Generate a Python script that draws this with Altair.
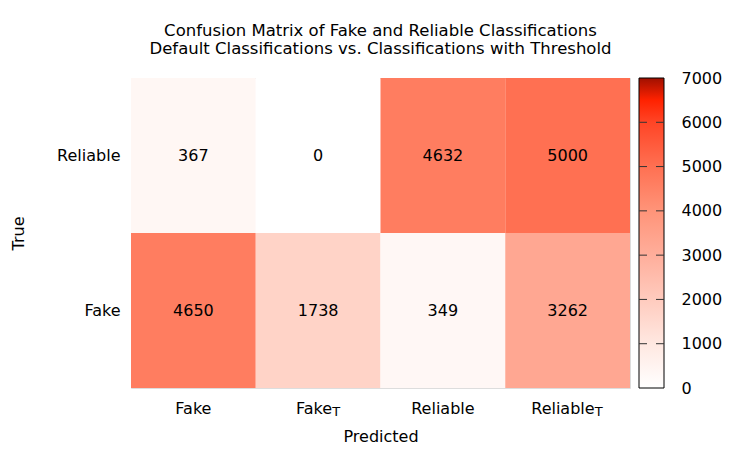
import altair as alt
import pandas as pd

true_labels = ["Reliable", "Reliable", "Reliable", "Reliable", "Fake", "Fake", "Fake", "Fake"]
pred_labels = ["Fake", "Fake_T", "Reliable", "Reliable_T", "Fake", "Fake_T", "Reliable", "Reliable_T"]
counts = [367, 0, 4632, 5000, 4650, 1738, 349, 3262]

x_order = ["Fake", "Fake_T", "Reliable", "Reliable_T"]
y_order = ["Reliable", "Fake"]
tick_main = ["Fake", "Fake", "Reliable", "Reliable"]
tick_sub = ["", "T", "", "T"]

color_stops = [0, 1000, 2000, 3000, 4000, 5000, 6000, 6500, 7000]
color_range = ["#ffffff", "#ffe8e1", "#ffcbbe", "#ffae9b", "#ff9479",
               "#ff7052", "#ff4526", "#ff2200", "#a01000"]
cbar_ticks = [0, 1000, 2000, 3000, 4000, 5000, 6000, 7000]
cbar_inner_ticks = [1000, 2000, 3000, 4000, 5000, 6000]

df = pd.DataFrame({"true": true_labels, "pred": pred_labels, "count": counts})
ticks = pd.DataFrame({"pred": x_order, "main": tick_main, "sub": tick_sub})
cbar_df = pd.DataFrame({"lo": [color_stops[0]], "hi": [color_stops[-1]]})
cbar_tick_df = pd.DataFrame({"lo": cbar_inner_ticks})

W, H = 499, 310
FONT = "DejaVu Sans"
FS = 16
CB_GAP, CB_W = 9, 25
VMAX = color_stops[-1]

x_enc = alt.X("pred:N", sort=x_order, title="Predicted",
              scale=alt.Scale(domain=x_order, paddingInner=0, paddingOuter=0),
              axis=alt.Axis(labels=False, ticks=False, domain=False,
                            titleFontSize=FS, titleFontWeight="normal",
                            titlePadding=40, titleFont=FONT, titleColor="black"))
y_enc = alt.Y("true:N", sort=y_order, title="True",
              scale=alt.Scale(domain=y_order, paddingInner=0, paddingOuter=0),
              axis=alt.Axis(ticks=False, domain=False, labelFontSize=FS,
                            labelPadding=11, labelFont=FONT, labelColor="black",
                            titleFontSize=FS, titleFontWeight="normal",
                            titlePadding=30, titleFont=FONT, titleColor="black"))

base = alt.Chart(df)
rects = base.mark_rect().encode(
    x=x_enc, y=y_enc,
    color=alt.Color("count:Q",
                    scale=alt.Scale(domain=color_stops, range=color_range, interpolate="rgb"),
                    legend=None),
)
texts = base.mark_text(fontSize=FS, font=FONT, color="black").encode(
    x=alt.X("pred:N", sort=x_order), y=alt.Y("true:N", sort=y_order),
    text=alt.Text("count:Q"),
)

label_layers = []
tk = alt.Chart(ticks)
label_layers.append(
    tk.transform_filter("datum.sub == ''").mark_text(
        fontSize=FS, font=FONT, color="black", baseline="top", align="center"
    ).encode(x=alt.X("pred:N", sort=x_order), y=alt.value(H + 13), text="main:N")
)
sub_dx = {"Fake_T": 14, "Reliable_T": 27}
for name, dx in sub_dx.items():
    f = tk.transform_filter(alt.datum.pred == name)
    label_layers.append(
        f.mark_text(fontSize=FS, font=FONT, color="black", baseline="top",
                    align="right", dx=dx).encode(
            x=alt.X("pred:N", sort=x_order), y=alt.value(H + 13), text="main:N")
    )
    label_layers.append(
        f.mark_text(fontSize=13, font=FONT, color="black", baseline="top",
                    align="left", dx=dx, dy=5).encode(
            x=alt.X("pred:N", sort=x_order), y=alt.value(H + 13), text="sub:N")
    )

heat = alt.layer(rects, texts, *label_layers)

# colour bar
grad = alt.LinearGradient(
    gradient="linear",
    stops=[alt.GradientStop(color=c, offset=v / VMAX) for v, c in zip(color_stops, color_range)],
    x1=0, x2=0, y1=1, y2=0,
)
cb_scale = alt.Scale(domain=[0, VMAX], nice=False, zero=False)
cb_axis = alt.Axis(orient="right", values=cbar_ticks, format="d",
                   offset=CB_GAP + CB_W, ticks=False, domain=False, grid=False,
                   labelFontSize=FS, labelFont=FONT, labelColor="black",
                   labelPadding=17, labelBaseline="middle", labelFlush=False,
                   labelOverlap=False)
cb_y = alt.Y("lo:Q", scale=cb_scale, title=None, axis=cb_axis)
cb_rect = alt.Chart(cbar_df).mark_rect(color=grad, stroke="black", strokeWidth=1).encode(
    x=alt.value(W + CB_GAP), x2=alt.value(W + CB_GAP + CB_W),
    y=cb_y, y2="hi:Q",
)
cb_tick_l = alt.Chart(cbar_tick_df).mark_rule(color="#333", strokeWidth=1).encode(
    x=alt.value(W + CB_GAP), x2=alt.value(W + CB_GAP + 8), y=cb_y,
)
cb_tick_r = alt.Chart(cbar_tick_df).mark_rule(color="#333", strokeWidth=1).encode(
    x=alt.value(W + CB_GAP + CB_W - 8), x2=alt.value(W + CB_GAP + CB_W), y=cb_y,
)
cbar = alt.layer(cb_rect, cb_tick_l, cb_tick_r)

chart = alt.layer(heat, cbar).resolve_scale(y="independent").resolve_axis(y="independent").properties(
    width=W, height=H,
    title=alt.Title(["Confusion Matrix of Fake and Reliable Classifications",
                     "Default Classifications vs. Classifications with Threshold"],
                    fontSize=16.5, fontWeight="normal", font=FONT, color="black",
                    anchor="middle", offset=13, lineHeight=18),
    padding={"left": 131, "top": 78, "right": 120, "bottom": 62},
    autosize=alt.AutoSizeParams(type="none"),
).configure_view(stroke="black", strokeWidth=1).configure(background="white")

chart.save("out.html", embed_options={"renderer": "svg", "actions": False})
